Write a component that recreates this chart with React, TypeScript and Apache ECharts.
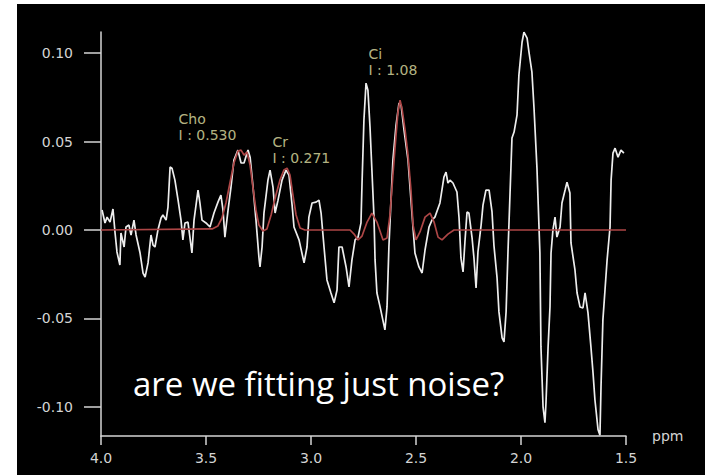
import React, { useEffect, useRef } from "react";
import * as echarts from "echarts";

// Measured spectrum (white trace): chemical shift (ppm) and intensity
const spectrumPpm = [
  3.995, 3.981, 3.971, 3.957, 3.943, 3.933, 3.924, 3.91, 3.905, 3.89, 3.881, 3.867, 3.857, 3.843, 3.833, 3.814,
  3.8, 3.79, 3.776, 3.762, 3.752, 3.743, 3.729, 3.714, 3.705, 3.69, 3.681, 3.671, 3.662, 3.648, 3.633, 3.619,
  3.61, 3.6, 3.586, 3.581, 3.567, 3.557, 3.538, 3.529, 3.519, 3.5, 3.481, 3.462, 3.443, 3.429, 3.419, 3.41,
  3.395, 3.381, 3.367, 3.348, 3.333, 3.319, 3.3, 3.29, 3.276, 3.262, 3.248, 3.243, 3.233, 3.224, 3.205, 3.195,
  3.181, 3.171, 3.157, 3.138, 3.119, 3.105, 3.09, 3.081, 3.057, 3.033, 3.019, 3.01, 2.995, 2.976, 2.962, 2.952,
  2.938, 2.924, 2.905, 2.89, 2.876, 2.867, 2.852, 2.833, 2.819, 2.805, 2.79, 2.776, 2.762, 2.757, 2.748, 2.738,
  2.729, 2.719, 2.71, 2.7, 2.695, 2.686, 2.671, 2.648, 2.638, 2.629, 2.619, 2.61, 2.595, 2.581, 2.571, 2.557,
  2.538, 2.524, 2.505, 2.486, 2.471, 2.457, 2.438, 2.424, 2.41, 2.386, 2.367, 2.357, 2.348, 2.338, 2.324, 2.305,
  2.295, 2.286, 2.276, 2.267, 2.257, 2.248, 2.233, 2.224, 2.214, 2.205, 2.19, 2.181, 2.167, 2.152, 2.138, 2.129,
  2.114, 2.105, 2.09, 2.081, 2.071, 2.062, 2.052, 2.043, 2.033, 2.019, 2.01, 1.995, 1.986, 1.971, 1.962, 1.948,
  1.938, 1.924, 1.91, 1.905, 1.895, 1.886, 1.881, 1.871, 1.862, 1.857, 1.848, 1.838, 1.829, 1.814, 1.805, 1.79,
  1.781, 1.767, 1.762, 1.743, 1.733, 1.719, 1.705, 1.695, 1.681, 1.667, 1.657, 1.648, 1.633, 1.624, 1.619, 1.61,
  1.6, 1.59, 1.576, 1.571, 1.562, 1.552, 1.538, 1.524, 1.51,
];
const spectrumIntensity = [
  0.0113, 0.004, 0.0073, 0.0045, 0.0119, -0.0017, -0.0124, -0.0198, -0.0017, -0.0096, 0.0017, 0.0028, -0.0028, 0.0056, -0.0028, -0.013,
  -0.0243, -0.0266, -0.0186, -0.0028, -0.0085, -0.0096, 0, 0.0068, 0.0085, 0.0056, 0.013, 0.0356, 0.035, 0.0282, 0.0169, 0.0056,
  -0.0056, 0.004, 0.0045, 0, -0.013, 0.0056, 0.0226, 0.0153, 0.0056, 0.004, 0.0017, 0.0096, 0.0158, 0.0198, 0.0113, -0.004,
  0.0113, 0.0243, 0.0395, 0.0452, 0.0379, 0.0379, 0.0452, 0.0412, 0.0243, 0.0056, -0.0153, -0.0209, -0.0096, 0.0096, 0.0282, 0.0339,
  0.0243, 0.0096, 0.0169, 0.0282, 0.0339, 0.0311, 0.0141, 0.0017, -0.0056, -0.0186, -0.0096, 0.0073, 0.0153, 0.0158, 0.0169, 0.0096,
  -0.0096, -0.0282, -0.0356, -0.0412, -0.0339, -0.0096, -0.0096, -0.0209, -0.0322, -0.0169, -0.0056, -0.004, 0.004, 0.0266, 0.0621, 0.0831,
  0.0791, 0.0582, 0.0339, 0.0073, -0.0169, -0.0356, -0.0435, -0.0565, -0.0435, -0.0096, 0.0169, 0.0395, 0.0593, 0.0718, 0.0706, 0.0565,
  0.0395, 0.0169, -0.013, -0.0209, -0.0243, -0.0113, 0.0017, 0.0056, 0.0073, 0.0153, 0.0299, 0.0328, 0.0266, 0.0282, 0.0266, 0.0215,
  0.0068, -0.0158, -0.0237, -0.0068, 0.0102, 0.0096, -0.0045, -0.0158, -0.0328, -0.0124, 0.0028, 0.0141, 0.0226, 0.0226, 0.0102, -0.0085,
  -0.0271, -0.0463, -0.061, -0.0633, -0.0463, -0.0124, 0.0215, 0.052, 0.0554, 0.065, 0.0876, 0.1062, 0.1119, 0.1085, 0.1006, 0.0893,
  0.0689, 0.035, -0.013, -0.0661, -0.1, -0.109, -0.0977, -0.0661, -0.0435, -0.013, 0, 0.0073, -0.004, 0.0017, 0.0153, 0.0226,
  0.0271, 0.0209, -0.0073, -0.0226, -0.0356, -0.0435, -0.0441, -0.0356, -0.0469, -0.0661, -0.0808, -0.096, -0.113, -0.116, -0.0887, -0.0508,
  -0.0339, -0.0169, 0.0017, 0.0282, 0.0435, 0.0463, 0.0412, 0.0452, 0.0435,
];

// Fitted model (red trace)
const fitPpm = [
  4.0, 3.471, 3.443, 3.424, 3.405, 3.386, 3.367, 3.348, 3.333, 3.319, 3.305, 3.29, 3.276, 3.262, 3.248, 3.229,
  3.21, 3.19, 3.167, 3.148, 3.129, 3.114, 3.1, 3.086, 3.071, 3.052, 3.029, 2.814, 2.795, 2.776, 2.757, 2.733,
  2.71, 2.686, 2.657, 2.638, 2.624, 2.61, 2.595, 2.586, 2.576, 2.567, 2.552, 2.538, 2.524, 2.514, 2.5, 2.481,
  2.457, 2.433, 2.414, 2.395, 2.376, 2.348, 2.319, 1.5,
];
const fitIntensity = [
  0, 0.0006, 0.0023, 0.0068, 0.0153, 0.0266, 0.0379, 0.0446, 0.0452, 0.0424, 0.0441, 0.0367, 0.0237, 0.0113, 0.0028, -0.0006,
  0.0006, 0.0085, 0.0198, 0.0282, 0.0339, 0.035, 0.0311, 0.0198, 0.0085, 0.0011, 0, 0, -0.0023, -0.0056, -0.0034, 0.0045,
  0.0096, 0.0045, -0.0056, -0.0045, 0.0085, 0.0311, 0.0537, 0.0667, 0.0734, 0.0689, 0.0565, 0.0424, 0.0226, 0.0028, -0.0056, -0.0011,
  0.0073, 0.0096, 0.0045, -0.004, -0.0056, -0.0023, 0, 0,
];

// Peak annotations
const peakNames = ["Cho", "Cr", "Ci"];
const peakIntegrals = ["0.530", "0.271", "1.08"];
const peakLabelPpm = [3.633, 3.186, 2.729];
const peakLabelIntensity = [0.0585, 0.0452, 0.0952];

// Axis ticks
const xTicks = [4.0, 3.5, 3.0, 2.5, 2.0, 1.5];
const yTicks = [-0.1, -0.05, 0, 0.05, 0.1];

const caption = "are we fitting just noise?";

export default function App() {
  const ref = useRef<HTMLDivElement>(null);

  useEffect(() => {
    if (!ref.current) return;
    const chart = echarts.init(ref.current, undefined, { renderer: "svg" });
    const axisColor = "#d4d4d4";
    const labelFont = "DejaVu Sans";

    const spectrum = spectrumPpm.map((p, i) => [p, spectrumIntensity[i]]);
    const fit = fitPpm.map((p, i) => [p, fitIntensity[i]]);
    const labels = peakNames.map((n, i) => [peakLabelPpm[i], peakLabelIntensity[i], `${n}\nI : ${peakIntegrals[i]}`]);

    chart.setOption({
      animation: false,
      backgroundColor: "#000000",
      grid: { left: 84, right: 79, top: 28, bottom: 39 },
      xAxis: {
        type: "value",
        min: xTicks[xTicks.length - 1],
        max: xTicks[0],
        interval: 0.5,
        inverse: true,
        name: "ppm",
        nameLocation: "start",
        nameGap: 26,
        nameTextStyle: { color: axisColor, fontFamily: labelFont, fontSize: 14, verticalAlign: "middle" },
        axisLine: { onZero: false, lineStyle: { color: axisColor, width: 1.5 } },
        axisTick: { show: true, length: 9, lineStyle: { color: axisColor, width: 1.5 } },
        axisLabel: {
          color: axisColor,
          fontFamily: labelFont,
          fontSize: 14,
          margin: 15,
          formatter: (v: number) => v.toFixed(1),
        },
        splitLine: { show: false },
      },
      yAxis: {
        type: "value",
        min: -0.1165,
        max: 0.112,
        axisLine: { show: true, onZero: false, lineStyle: { color: axisColor, width: 1.5 } },
        axisTick: { show: true, length: 17, customValues: yTicks, lineStyle: { color: axisColor, width: 1.5 } },
        axisLabel: {
          color: axisColor,
          fontFamily: labelFont,
          fontSize: 14,
          margin: 28,
          customValues: yTicks,
          formatter: (v: number) => v.toFixed(2),
        },
        splitLine: { show: false },
      },
      series: [
        {
          type: "line",
          data: spectrum,
          showSymbol: false,
          lineStyle: { color: "#ededed", width: 1.7 },
          z: 2,
        },
        {
          type: "line",
          data: fit,
          showSymbol: false,
          lineStyle: { color: "#ad4646", width: 1.7 },
          z: 3,
        },
        {
          type: "scatter",
          data: labels,
          symbolSize: 1,
          itemStyle: { color: "rgba(0,0,0,0)" },
          label: {
            show: true,
            position: "right",
            distance: 0,
            align: "left",
            color: "#e4e4a8",
            fontFamily: labelFont,
            fontSize: 14,
            lineHeight: 16,
            formatter: (p: any) => p.data[2],
          },
          z: 4,
        },
      ],
      graphic: [
        {
          type: "text",
          x: 116,
          y: 379,
          style: {
            text: caption,
            fill: "#ffffff",
            font: "33px 'Open Sans'",
            align: "left",
            verticalAlign: "middle",
          },
          z: 10,
        },
      ],
    });
    return () => chart.dispose();
  }, []);

  return (
    <div style={{ position: "fixed", left: 0, top: 0, width: 705, height: 475, background: "#ffffff" }}>
      <div ref={ref} style={{ position: "absolute", left: 17, top: 4, width: 688, height: 471 }} />
    </div>
  );
}
